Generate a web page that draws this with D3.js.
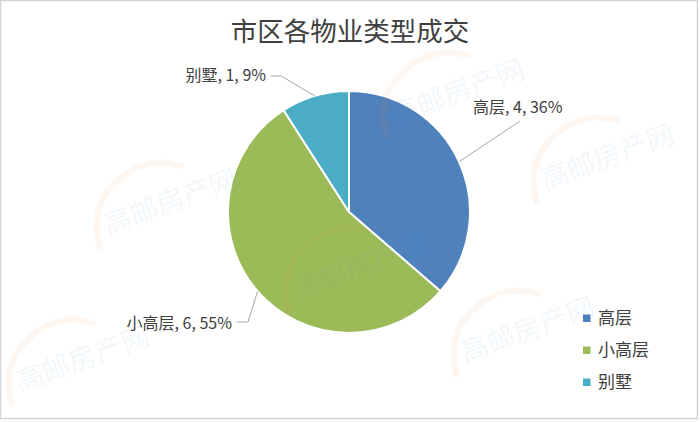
<!DOCTYPE html>
<html>
<head>
<meta charset="utf-8">
<script src="https://cdn.jsdelivr.net/npm/d3@7"></script>
<style>
  html, body { margin: 0; padding: 0; background: #fff; }
  svg { display: block; }
  text { font-family: "Noto Sans CJK SC", "Noto Sans", sans-serif; }
</style>
</head>
<body>
<svg id="chart" width="700" height="422"></svg>
<script>
const title = "市区各物业类型成交";
const categories = ["高层", "小高层", "别墅"];
const values = [4, 6, 1];
const percentLabels = ["36%", "55%", "9%"];
const colors = ["#4f81bd", "#9bbb59", "#4bacc6"];
const watermarkText = "高邮房产网";

const W = 700, H = 422;
const svg = d3.select("#chart");

// background + border
svg.append("rect").attr("x", 0.5).attr("y", 0.5).attr("width", W - 3).attr("height", H - 4)
  .attr("fill", "#fff").attr("stroke", "#d4d4d4").attr("stroke-width", 1.5);

// title
svg.append("text").attr("x", 350).attr("y", 41).attr("text-anchor", "middle")
  .attr("font-size", 26.5).attr("fill", "#404040").text(title);

// pie
const cx = 349, cy = 212, R = 121;
const pie = d3.pie().sort(null).value(d => d)(values);
const arc = d3.arc().innerRadius(0).outerRadius(R);
const g = svg.append("g").attr("transform", `translate(${cx},${cy})`);
g.selectAll("path").data(pie).join("path")
  .attr("d", arc).attr("fill", (d, i) => colors[i])
  .attr("stroke", "#fff").attr("stroke-width", 2).attr("stroke-linejoin", "round");

// data labels with leader lines
const labelSpecs = [
  { anchor: "start", tx: 473, ty: 107, path: p => [[520, 121], p] },
  { anchor: "end", tx: 232, ty: 323, path: p => [[237, 322], [248, 322], p] },
  { anchor: "end", tx: 266, ty: 75, path: p => [[271, 76], [281, 76], p] }
];
pie.forEach((d, i) => {
  const a = (d.startAngle + d.endAngle) / 2;
  const p = [cx + R * Math.sin(a), cy - R * Math.cos(a)];
  const s = labelSpecs[i];
  svg.append("path").attr("d", d3.line()(s.path(p)))
    .attr("fill", "none").attr("stroke", "#a6a6a6").attr("stroke-width", 1);
  svg.append("text").attr("x", s.tx).attr("y", s.ty).attr("dy", "0.35em")
    .attr("text-anchor", s.anchor).attr("font-size", 16).attr("fill", "#404040")
    .text(`${categories[i]}, ${values[i]}, ${percentLabels[i]}`);
});

// legend
const legendY = d3.scalePoint().domain(categories).range([318, 382]);
const lg = svg.append("g");
categories.forEach((c, i) => {
  const y = legendY(c);
  lg.append("rect").attr("x", 583).attr("y", y - 3.5).attr("width", 7.5).attr("height", 7.5)
    .attr("fill", colors[i]);
  lg.append("text").attr("x", 598).attr("y", y).attr("dy", "0.35em")
    .attr("font-size", 17).attr("fill", "#404040").text(c);
});

// faint watermarks (drawn on top)
const wmPositions = [[395, 125], [108, 235], [297, 300], [465, 363], [20, 392], [545, 190]];
const wm = svg.append("g").attr("pointer-events", "none");
wmPositions.forEach(([x, y]) => {
  const t = wm.append("g").attr("transform", `translate(${x},${y}) rotate(-20)`);
  t.append("path").attr("d", "M-12,8 Q-8,-40 40,-52 Q70,-58 92,-40")
    .attr("fill", "none").attr("stroke", "rgba(240,140,60,0.08)").attr("stroke-width", 6)
    .attr("stroke-linecap", "round");
  t.append("text").attr("x", 0).attr("y", 0).attr("font-size", 28)
    .attr("fill", "rgba(61,133,198,0.08)").text(watermarkText);
});
</script>
</body>
</html>
